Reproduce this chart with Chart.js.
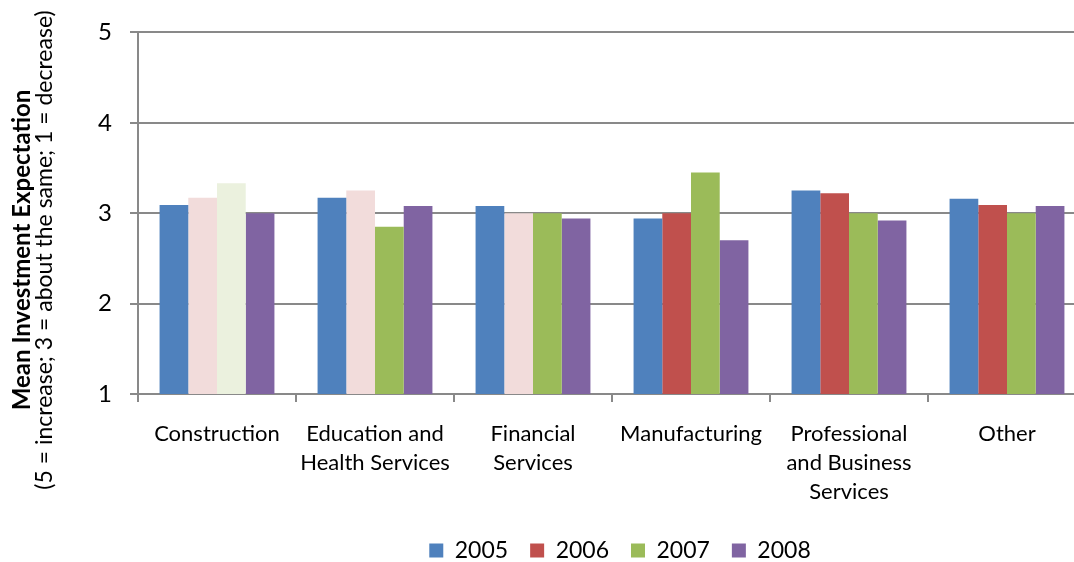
<!DOCTYPE html>
<html>
<head>
<meta charset="utf-8">
<script src="https://cdn.jsdelivr.net/npm/chart.js@4/dist/chart.umd.min.js"></script>
<style>
html,body{margin:0;padding:0;overflow:hidden;background:#fff;}
#wrap{position:absolute;left:0;top:0;width:1086px;height:562px;}
</style>
</head>
<body>
<div id="wrap"><canvas id="c"></canvas></div>
<script>
const categories = ['Construction', ['Education and','Health Services'], ['Financial','Services'], 'Manufacturing', ['Professional','and Business','Services'], 'Other'];
const years = ['2005','2006','2007','2008'];
const values2005 = [3.09, 3.17, 3.08, 2.94, 3.25, 3.16];
const values2006 = [3.17, 3.25, 3.00, 3.00, 3.22, 3.09];
const values2007 = [3.33, 2.85, 3.00, 3.45, 3.00, 3.00];
const values2008 = [3.00, 3.08, 2.94, 2.70, 2.92, 3.08];
const yTicks = [1, 2, 3, 4, 5];
const seriesColors = ['#4F81BD', '#C0504D', '#9BBB59', '#8064A2'];
const colors2005 = ['#4F81BD','#4F81BD','#4F81BD','#4F81BD','#4F81BD','#4F81BD'];
const colors2006 = ['#F2DCDB','#F2DCDB','#F2DCDB','#C0504D','#C0504D','#C0504D'];
const colors2007 = ['#EBF1DE','#9BBB59','#9BBB59','#9BBB59','#9BBB59','#9BBB59'];
const colors2008 = ['#8064A2','#8064A2','#8064A2','#8064A2','#8064A2','#8064A2'];
const titleBold = 'Mean Investment Expectation';
const titleSub = '(5 = increase; 3 = about the same; 1 = decrease)';

const FONT = 'Lato, "Open Sans", sans-serif';
const GRID = '#898989';

const yTitlePlugin = {
  id: 'yTitle',
  afterLayout(chart) {
    const lg = chart.legend;
    if (lg) {
      lg.left += 77; lg.right += 77;
      lg.top += 10; lg.bottom += 10;
    }
  },
  afterDraw(chart) {
    const ctx = chart.ctx;
    const cy = 250;
    ctx.save();
    ctx.fillStyle = '#000';
    ctx.textAlign = 'center';
    ctx.textBaseline = 'middle';
    ctx.translate(22, cy);
    ctx.rotate(-Math.PI / 2);
    ctx.font = 'bold 24px ' + FONT;
    ctx.fillText(titleBold, 0, 0);
    ctx.restore();
    ctx.save();
    ctx.fillStyle = '#000';
    ctx.textAlign = 'center';
    ctx.textBaseline = 'middle';
    ctx.translate(45, cy);
    ctx.rotate(-Math.PI / 2);
    ctx.font = '23px ' + FONT;
    ctx.fillText(titleSub, 0, 0);
    ctx.restore();
  }
};

const dataValues = [values2005, values2006, values2007, values2008];
const dataColors = [colors2005, colors2006, colors2007, colors2008];

new Chart(document.getElementById('c'), {
  type: 'bar',
  data: {
    labels: categories,
    datasets: years.map((y, i) => ({
      label: y,
      data: dataValues[i],
      backgroundColor: dataColors[i],
      borderWidth: 0,
      categoryPercentage: 0.727,
      barPercentage: 1.0
    }))
  },
  options: {
    responsive: true,
    maintainAspectRatio: false,
    animation: false,
    layout: { padding: { left: 0, right: 0, top: 29, bottom: 0 } },
    plugins: {
      tooltip: { enabled: false },
      legend: {
        position: 'bottom',
        labels: {
          font: { family: FONT, size: 23 },
          color: '#000',
          boxWidth: 14,
          boxHeight: 14,
          padding: 22,
          generateLabels: (chart) => years.map((y, i) => ({
            text: y,
            fillStyle: seriesColors[i],
            strokeStyle: seriesColors[i],
            lineWidth: 0,
            hidden: false,
            datasetIndex: i,
            fontColor: '#000'
          }))
        }
      }
    },
    scales: {
      x: {
        afterFit(scale) { scale.height = 113; },
        grid: { drawOnChartArea: false, drawTicks: true, tickLength: 8, color: GRID, lineWidth: 2, offset: true },
        border: { color: GRID, width: 2 },
        ticks: {
          font: { family: FONT, size: 22, lineHeight: 1.32 },
          color: '#000',
          padding: 17,
          maxRotation: 0,
          autoSkip: false
        }
      },
      y: {
        min: 1,
        max: 5,
        afterFit(scale) { scale.width = 138; },
        afterBuildTicks(scale) { scale.ticks = yTicks.map(v => ({ value: v })); },
        grid: { color: GRID, lineWidth: 2, tickLength: 8 },
        border: { color: GRID, width: 2 },
        ticks: {
          font: { family: FONT, size: 24 },
          color: '#000',
          padding: 18,
          stepSize: 1
        }
      }
    }
  },
  plugins: [yTitlePlugin]
});
</script>
</body>
</html>
